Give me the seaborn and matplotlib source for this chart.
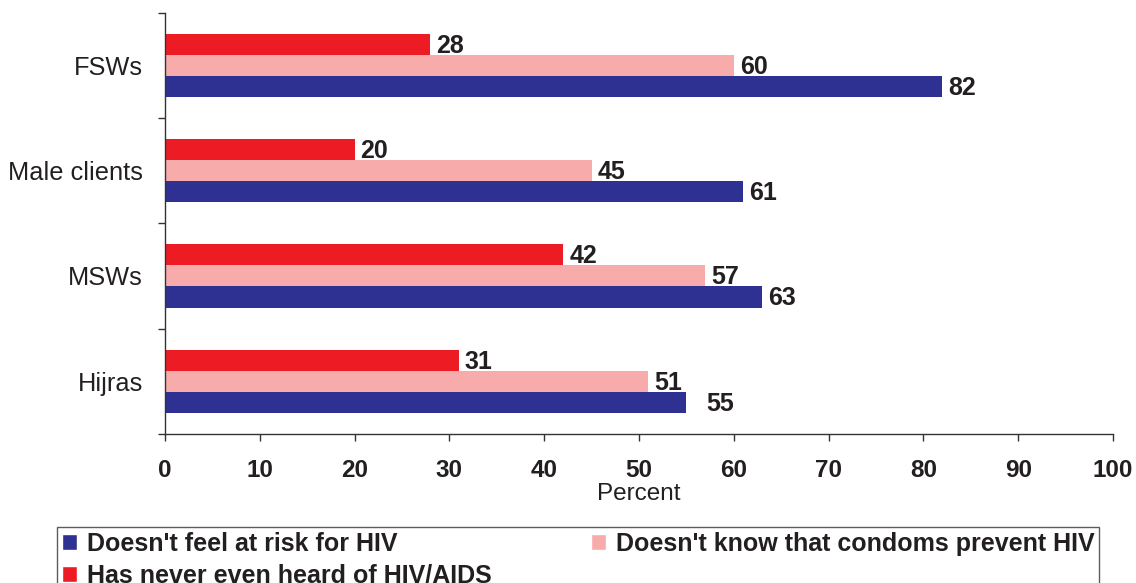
import matplotlib
matplotlib.use("Agg")
import matplotlib.pyplot as plt
from matplotlib.patches import Patch
import seaborn as sns
import pandas as pd

categories = ["FSWs", "Male clients", "MSWs", "Hijras"]
series_names = ["Doesn't feel at risk for HIV",
                "Doesn't know that condoms prevent HIV",
                "Has never even heard of HIV/AIDS"]
not_at_risk = [82, 61, 63, 55]
no_condom_knowledge = [60, 45, 57, 51]
never_heard = [28, 20, 42, 31]
x_ticks = [0, 10, 20, 30, 40, 50, 60, 70, 80, 90, 100]

colors = {series_names[0]: "#2E3192",
          series_names[1]: "#F7ABAB",
          series_names[2]: "#ED1C24"}

rows = []
for name, vals in zip(series_names, [not_at_risk, no_condom_knowledge, never_heard]):
    for cat, v in zip(categories, vals):
        rows.append({"group": cat, "series": name, "value": v})
df = pd.DataFrame(rows)

sns.set_style("white")
plt.rcParams['font.family'] = ['Liberation Sans', 'DejaVu Sans']

fig = plt.figure(figsize=(11.36, 5.83), dpi=100)
ax = fig.add_axes([165/1136, 1-434/583, 948/1136, 421.5/583])

hue_order = [series_names[2], series_names[1], series_names[0]]
sns.barplot(data=df, y="group", x="value", hue="series", hue_order=hue_order,
            order=categories, palette=colors, orient="h", width=0.6,
            saturation=1, linewidth=0, legend=False, ax=ax)

# value labels
for cont in ax.containers:
    for rect in cont:
        w = rect.get_width()
        yc = rect.get_y() + rect.get_height() / 2
        off = 6
        if round(w) == 55:
            off = 20
        ax.annotate(f"{int(round(w))}", (w, yc), xytext=(off * 0.72, -1),
                    textcoords="offset points", va="center", ha="left",
                    fontsize=18, fontweight="bold", color="#231F20")

ax.set_xlim(0, 100)
ax.set_ylim(3.5, -0.5)
ax.set_xticks(x_ticks)
ax.set_xticklabels([str(t) for t in x_ticks], fontsize=17.5, fontweight="bold",
                   color="#231F20")
ax.set_yticks([-0.5, 0.5, 1.5, 2.5, 3.5])
ax.set_yticklabels([])
ax.set_yticks(range(len(categories)), minor=True)
ax.set_yticklabels(categories, minor=True, fontsize=18.3, color="#231F20")
ax.tick_params(axis="y", which="major", direction="out", length=5, width=1,
               color="#333333", left=True)
ax.tick_params(axis="y", which="minor", length=0, pad=16)
ax.tick_params(axis="x", direction="out", length=5, width=1, color="#333333",
               bottom=True, pad=13)
ax.set_xlabel("Percent", fontsize=17.5, color="#231F20", labelpad=1)
ax.set_ylabel("")
for s in ["top", "right"]:
    ax.spines[s].set_visible(False)
for s in ["left", "bottom"]:
    ax.spines[s].set_color("#333333")
    ax.spines[s].set_linewidth(1)

handles = [Patch(facecolor=colors[series_names[0]]),
           Patch(facecolor=colors[series_names[2]]),
           Patch(facecolor=colors[series_names[1]])]
labels = [series_names[0], series_names[2], series_names[1]]
leg = fig.legend(handles, labels, loc="upper left",
                 bbox_to_anchor=(57/1136, 1-527/583), ncol=2,
                 prop={"size": 18, "weight": "bold"},
                 frameon=True, fancybox=False, edgecolor="#333333",
                 borderpad=0.2, borderaxespad=0, handlelength=0.6,
                 handleheight=0.6, handletextpad=0.4, columnspacing=3.95,
                 labelspacing=0.3)
leg.get_frame().set_linewidth(1)
for t in leg.get_texts():
    t.set_color("#231F20")

fig.savefig("out.png", dpi=100)
